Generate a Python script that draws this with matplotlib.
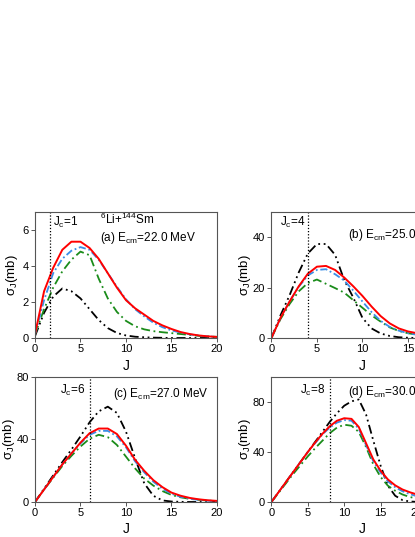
import numpy as np
import matplotlib
matplotlib.use("Agg")
import matplotlib.pyplot as plt

plt.rcParams['font.family'] = ['Liberation Sans', 'DejaVu Sans']
plt.rcParams['mathtext.default'] = 'regular'

# angular momentum J
J20 = np.arange(0, 21)
J25 = np.arange(0, 26)

# (a) Ecm = 22.0 MeV
red_a = [0.2, 2.6, 3.9, 4.9, 5.35, 5.35, 5.0, 4.4, 3.6, 2.8, 2.1, 1.65, 1.3, 0.95, 0.7, 0.5, 0.33, 0.22, 0.14, 0.09, 0.06]
blue_a = [0.2, 2.1, 3.6, 4.4, 4.85, 5.05, 4.9, 4.35, 3.6, 2.85, 2.15, 1.6, 1.2, 0.85, 0.6, 0.42, 0.3, 0.2, 0.13, 0.09, 0.06]
green_a = [0.2, 1.6, 2.8, 3.7, 4.35, 4.8, 4.6, 3.3, 2.2, 1.45, 0.95, 0.65, 0.48, 0.38, 0.32, 0.27, 0.22, 0.17, 0.12, 0.09, 0.06]
black_a = [0.1, 1.4, 2.3, 2.75, 2.6, 2.2, 1.6, 1.0, 0.55, 0.28, 0.14, 0.07, 0.04, 0.02, 0.01, 0, 0, 0, 0, 0, 0]

# (b) Ecm = 25.0 MeV
red_b = [0, 8, 14.5, 20.5, 25.5, 28.3, 28.6, 27, 24, 20.5, 16.7, 12.5, 8.7, 5.8, 3.8, 2.6, 1.9, 1.3, 0.9, 0.6, 0.4]
blue_b = [0, 8, 14.5, 20.3, 24.8, 27, 27.3, 25.3, 22.8, 18.8, 14.5, 10.3, 6.8, 4.4, 2.9, 1.9, 1.3, 0.9, 0.6, 0.4, 0.25]
green_b = [0, 7.5, 13.5, 18.5, 21.8, 23.2, 21.5, 19.8, 18, 15, 12, 9, 6.5, 4.2, 2.8, 1.9, 1.3, 0.9, 0.6, 0.4, 0.25]
black_b = [0, 9, 17, 26, 33.5, 37.3, 37.3, 33, 23, 16, 8, 3.8, 1.8, 0.8, 0.3, 0.1, 0, 0, 0, 0, 0]

# (c) Ecm = 27.0 MeV
red_c = [0, 8, 16, 24, 31, 38, 44, 47, 47, 43.5, 36, 27, 20, 14, 9.5, 6, 4, 2.6, 1.7, 1.1, 0.7]
blue_c = [0, 8, 16, 24, 31, 37.5, 43, 45.5, 45.5, 42, 35, 26, 19, 13, 8.5, 5.3, 3.3, 2.1, 1.3, 0.8, 0.5]
green_c = [0, 8, 15.5, 23, 29.5, 35.5, 40.5, 43, 41.5, 36.5, 29, 21.5, 15, 10.5, 7, 4.5, 3.0, 2.0, 1.4, 0.9, 0.6]
black_c = [0, 8.5, 17, 25.5, 33.5, 42, 51, 58, 61, 57, 45, 28, 12, 4, 1, 0.3, 0.1, 0, 0, 0, 0]

# (d) Ecm = 30.0 MeV
red_d = [0, 8, 16, 24, 32, 40, 47.5, 54.5, 60.5, 65, 67, 66.5, 60, 47, 34, 25, 18, 13.3, 10, 7.8, 6, 4.5, 3.3, 2.4, 1.7, 1.2]
blue_d = [0, 8, 16, 24, 32, 40, 47, 54, 59.5, 63.5, 65.5, 65, 58.5, 45.5, 32.5, 23.5, 16.5, 11.8, 8.6, 6.3, 4.6, 3.3, 2.4, 1.7, 1.2, 0.9]
green_d = [0, 7.5, 15, 22.5, 29.5, 36.5, 43, 49, 55, 59.5, 61.8, 61, 56, 44, 30, 20, 13, 9, 6, 4, 2.8, 1.9, 1.3, 0.9, 0.6, 0.4]
black_d = [0, 8, 16, 24, 32, 40, 48, 56, 64, 71, 77, 80.5, 82, 70, 49, 29, 13, 5, 1.5, 0.4, 0.1, 0, 0, 0, 0, 0]

panels = [
    ("a", J20, red_a, blue_a, green_a, black_a, 1, 1.7, 20, 7, [0, 2, 4, 6], "22.0"),
    ("b", J20, red_b, blue_b, green_b, black_b, 4, 4, 20, 50, [0, 20, 40], "25.0"),
    ("c", J20, red_c, blue_c, green_c, black_c, 6, 6, 20, 80, [0, 40, 80], "27.0"),
    ("d", J25, red_d, blue_d, green_d, black_d, 8, 8, 25, 100, [0, 40, 80], "30.0"),
]

rects = {
    "a": [0.0843, 0.3706, 0.4386, 0.2346],
    "b": [0.654, 0.3706, 0.4386, 0.2346],
    "c": [0.0843, 0.0652, 0.4386, 0.2328],
    "d": [0.654, 0.0652, 0.4386, 0.2328],
}

# text positions in axes fraction: (Jc x, Jc y, label x, label y)
txt_pos = {
    "a": (0.099, 0.915, 0.357, 0.795),
    "b": (0.047, 0.915, 0.422, 0.818),
    "c": (0.137, 0.89, 0.427, 0.866),
    "d": (0.157, 0.89, 0.422, 0.88),
}
ylab_x = {"a": -0.085, "b": -0.1, "c": -0.097, "d": -0.1}

fig = plt.figure(figsize=(4.15, 5.37), dpi=100)

for name, J, red, blue, green, black, jc, jline, xmax, ymax, yt, ecm in panels:
    ax = fig.add_axes(rects[name])
    ax.plot(J, black, color='black', lw=1.3, ls=(0, (5, 2, 1, 2, 1, 2)))
    ax.plot(J, green, color='#1a8c1a', lw=1.3, ls=(0, (5, 2, 1, 2)))
    ax.plot(J, blue, color='#3a8ee6', lw=1.3, ls=(0, (4, 1.5, 1, 1.5)))
    ax.plot(J, red, color='red', lw=1.4)
    ax.axvline(jline, color='black', lw=0.9, ls=(0, (1, 1.5)))
    ax.set_xlim(0, xmax)
    ax.set_ylim(0, ymax)
    ax.set_xticks([0, 5, 10, 15, 20])
    ax.set_yticks(yt)
    ax.tick_params(direction='out', length=3, width=0.7, labelsize=8, pad=1.5, color='#555555')
    for s in ax.spines.values():
        s.set_color('#555555')
        s.set_linewidth(0.8)
    ax.set_xlabel("J", fontsize=10)
    ax.set_ylabel(r"$\sigma_J$(mb)", fontsize=9.5)
    ax.xaxis.set_label_coords(0.5, -0.163)
    ax.yaxis.set_label_coords(ylab_x[name], 0.5)
    jx, jy, lx, ly = txt_pos[name]
    ax.text(jx, jy, "J$_c$=%d" % jc, transform=ax.transAxes, fontsize=8.5, ha='left', va='center')
    ax.text(lx, ly, "(%s) E$_{cm}$=%s MeV" % (name, ecm), transform=ax.transAxes,
            fontsize=8.5, ha='left', va='center')
    if name == "a":
        ax.text(0.357, 0.944, "$^{6}$Li+$^{144}$Sm", transform=ax.transAxes,
                fontsize=8.5, ha='left', va='center')

fig.savefig("out.png", dpi=100)
